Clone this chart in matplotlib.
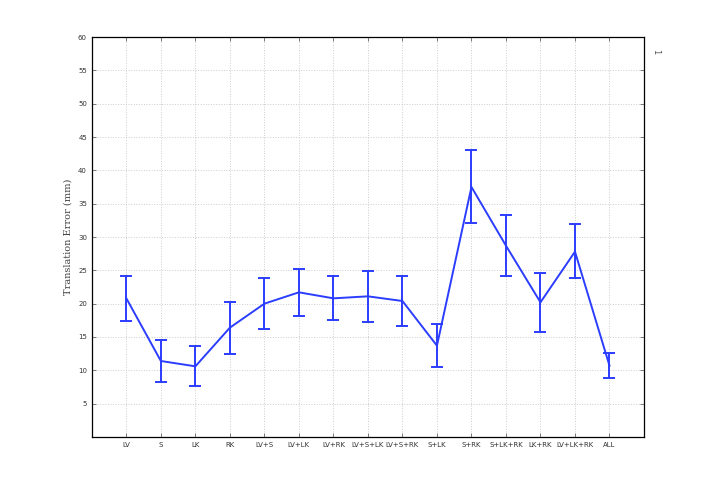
import matplotlib
matplotlib.use("Agg")
import matplotlib.pyplot as plt
import numpy as np

labels = ["LV", "S", "LK", "RK", "LV+S", "LV+LK", "LV+RK", "LV+S+LK", "LV+S+RK",
          "S+LK", "S+RK", "S+LK+RK", "LK+RK", "LV+LK+RK", "ALL"]
means = [20.8, 11.4, 10.6, 16.4, 20.0, 21.7, 20.8, 21.1, 20.4, 13.7, 37.5, 28.7, 20.2, 27.8, 10.7]
upper = [24.2, 14.5, 13.7, 20.3, 23.9, 25.2, 24.2, 24.9, 24.1, 16.9, 43.1, 33.3, 24.6, 31.9, 12.6]
lower = [17.4, 8.3, 7.6, 12.5, 16.2, 18.1, 17.5, 17.3, 16.6, 10.5, 32.1, 24.2, 15.8, 23.9, 8.8]

x = np.arange(1, len(labels) + 1)
means = np.array(means)
yerr = [means - np.array(lower), np.array(upper) - means]

fig = plt.figure(figsize=(7.12, 4.91), dpi=100)
ax = fig.add_axes([0.129, 0.11, 0.7755, 0.8146])

ax.errorbar(x, means, yerr=yerr, color="#2b3dff", lw=1.4, capsize=4, capthick=1.4, elinewidth=1.4)

ax.set_xlim(0, 16)
ax.set_ylim(0, 60)
ax.set_xticks(x)
ax.set_xticklabels(labels, fontsize=5, color="#333333")
ax.set_yticks(np.arange(5, 61, 5))
ax.tick_params(axis="y", labelsize=5, labelcolor="#333333")
ax.tick_params(direction="in", top=True, right=True, length=3, width=0.6, color="#666666")
ax.grid(True, linestyle=":", color="#cccccc", lw=0.7)
for s in ax.spines.values():
    s.set_linewidth(0.9)
ax.set_ylabel("Translation Error (mm)", family="DejaVu Serif", fontsize=7, color="#444444")

fig.text(0.914, 0.893, "1", rotation=-90, fontsize=6, color="#555555")

fig.savefig("out.png", dpi=100)
